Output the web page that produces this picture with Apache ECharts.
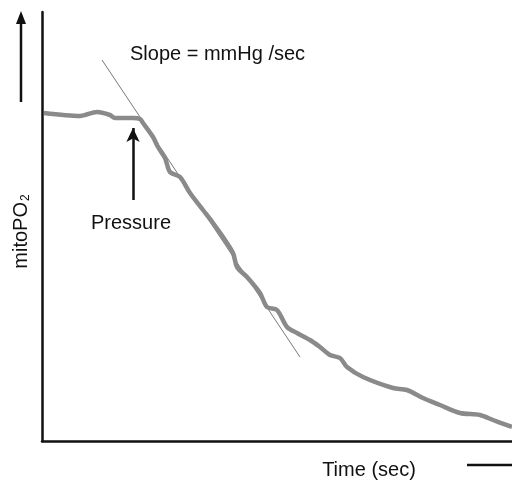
<!DOCTYPE html>
<html>
<head>
<meta charset="utf-8">
<script src="https://cdn.jsdelivr.net/npm/echarts@6/dist/echarts.min.js"></script>
<style>
  * { margin: 0; padding: 0; }
  #chart { width: 512px; height: 484px; background: #fff; }
</style>
</head>
<body>
<div id="chart"></div>
<script>
// time (sec) and mitoPO2 (mmHg)
var timeSec = [0.4, 7.6, 11, 13.6, 14.6, 18.2, 19.6, 20.2, 22.2, 23.2, 24.6, 25.6, 27.6, 29.6,
  32.2, 34.2, 36.2, 38.2, 39, 41, 43.6, 45, 47, 49, 51, 53.6, 55.6, 57.6, 59.6, 61,
  64.2, 70.2, 73, 76.2, 79.6, 83.6, 87.6, 90.2, 94];
var mitoPO2 = [65.6, 65, 65.8, 65.2, 64.6, 64.6, 64.4, 63.6, 60.8, 58.8, 56.6, 53.8, 52.8, 49.6,
  46.2, 43.6, 40.8, 37.6, 34.8, 32.8, 29.6, 26.8, 26.2, 22.8, 21.6, 20.2, 18.8, 17.2, 16.6, 14.8,
  12.8, 10.6, 10.2, 8.6, 7.2, 5.6, 5.2, 4.2, 2.8];
// tangent (slope) line end points
var slopeTime = [12, 51.6];
var slopeValue = [76.2, 16.8];
// pressure marker
var pressureTime = 18.2;
var pressureFrom = 48.2;
var pressureTo = 62.6;

var chart = echarts.init(document.getElementById('chart'));

var trace = timeSec.map(function (t, i) { return [t, mitoPO2[i]]; });
var slope = slopeTime.map(function (t, i) { return [t, slopeValue[i]]; });

var font = '"Liberation Sans", Arial, sans-serif';

chart.setOption({
  animation: false,
  grid: { left: 42, right: 0, top: 12, bottom: 43 },
  xAxis: {
    type: 'value', min: 0, max: 94,
    axisLine: { show: true, lineStyle: { color: '#111', width: 2.5 } },
    axisTick: { show: false }, axisLabel: { show: false }, splitLine: { show: false }
  },
  yAxis: {
    type: 'value', min: 0, max: 85.8,
    name: 'mitoPO{sub|2}',
    nameLocation: 'middle', nameRotate: 90, nameGap: 10,
    nameTextStyle: {
      fontFamily: font, fontSize: 20, color: '#111', padding: [0, 10, 0, 0],
      rich: { sub: { fontFamily: font, fontSize: 12, color: '#111', padding: [10, 0, 0, 1] } }
    },
    axisLine: { show: true, lineStyle: { color: '#111', width: 2.5 } },
    axisTick: { show: false }, axisLabel: { show: false }, splitLine: { show: false }
  },
  series: [
    {
      type: 'line', data: slope, symbol: 'none', silent: true,
      lineStyle: { color: '#777', width: 1 }
    },
    {
      type: 'line', data: trace, symbol: 'none', smooth: 0.3,
      lineStyle: { color: '#8a8a8a', width: 4.5 },
      markLine: {
        silent: true, symbol: ['none', 'arrow'], symbolSize: [10, 14],
        label: { show: false },
        lineStyle: { color: '#111', width: 2.5, type: 'solid' },
        data: [[{ coord: [pressureTime, pressureFrom] }, { coord: [pressureTime, pressureTo] }]]
      }
    }
  ],
  graphic: [
    { type: 'text', left: 130, top: 44, style: { text: 'Slope = mmHg /sec', font: '20px ' + font, fill: '#111' } },
    { type: 'text', x: 131, y: 223, style: { text: 'Pressure', font: '20px ' + font, fill: '#111', align: 'center', verticalAlign: 'middle' } },
    { type: 'text', x: 369, y: 470, style: { text: 'Time (sec)', font: '20px ' + font, fill: '#111', align: 'center', verticalAlign: 'middle' } },
    { type: 'line', shape: { x1: 21, y1: 102, x2: 21, y2: 22 }, style: { stroke: '#111', lineWidth: 2.5 } },
    { type: 'polygon', shape: { points: [[21, 11], [16, 24], [26, 24]] }, style: { fill: '#111' } },
    { type: 'line', shape: { x1: 467, y1: 465, x2: 512, y2: 465 }, style: { stroke: '#111', lineWidth: 2.5 } }
  ]
});
</script>
</body>
</html>
